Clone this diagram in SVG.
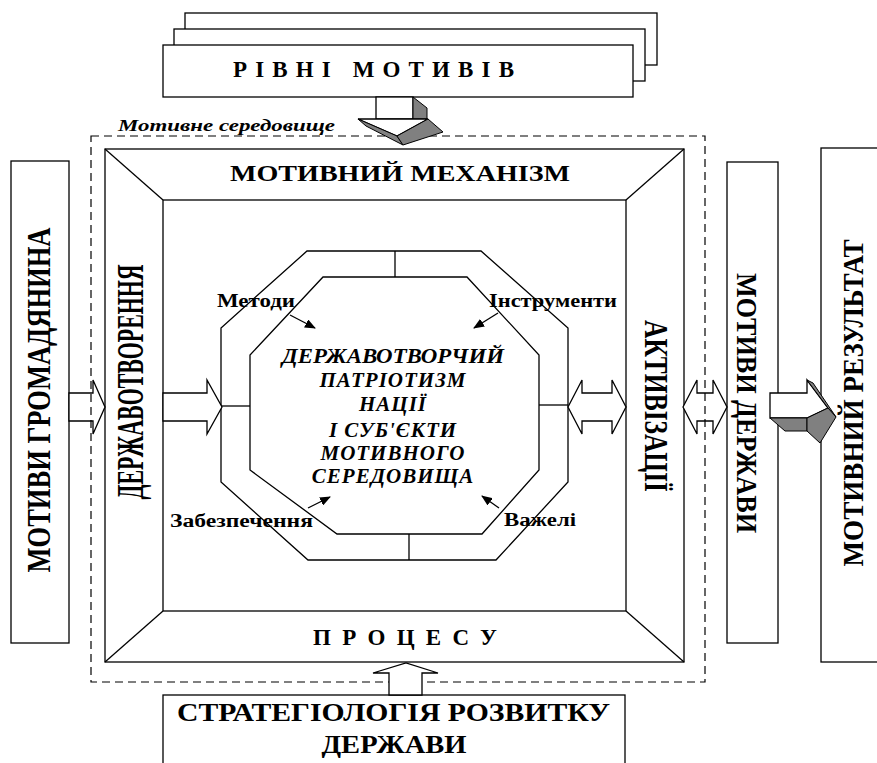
<svg xmlns="http://www.w3.org/2000/svg" width="877" height="763" viewBox="0 0 877 763">
<style>
.b{fill:#fff;stroke:#000;stroke-width:1.3}
.l{fill:none;stroke:#000;stroke-width:1.3}
.g{fill:#808080;stroke:#000;stroke-width:1}
.d{fill:none;stroke:#000;stroke-width:1.2;stroke-dasharray:8 5}
text{font-family:"Liberation Serif","Times New Roman",serif;font-weight:bold;fill:#000}
.it{font-style:italic}
</style>
<defs>
<marker id="ah" markerWidth="11" markerHeight="9" refX="10" refY="4.5" orient="auto" markerUnits="userSpaceOnUse">
<path d="M0,0 L11,4.5 L0,9 z" fill="#000"/>
</marker>
</defs>
<rect width="877" height="763" fill="#fff"/>

<g id="rivni-motyviv">
<rect class="b" x="185" y="13" width="472" height="52"/>
<rect class="b" x="174" y="29" width="471" height="52"/>
<rect class="b" x="163" y="45" width="470" height="52"/>
<text x="233" y="77" font-size="23" textLength="281" lengthAdjust="spacing">РІВНІ  МОТИВІВ</text>
</g>

<g id="motyvy-hromadianyna">
<rect class="b" x="11" y="161" width="58" height="482"/>
<text transform="translate(50,400) rotate(-90)" text-anchor="middle" font-size="34" textLength="345" lengthAdjust="spacingAndGlyphs">МОТИВИ ГРОМАДЯНИНА</text>
</g>

<g id="motyvnyi-mekhanizm">
<rect class="b" x="105" y="149" width="579" height="513"/>
<rect class="b" x="163" y="200" width="463" height="411"/>
<line class="l" x1="105" y1="149" x2="163" y2="200"/>
<line class="l" x1="684" y1="149" x2="626" y2="200"/>
<line class="l" x1="105" y1="662" x2="163" y2="611"/>
<line class="l" x1="684" y1="662" x2="626" y2="611"/>
<text x="400" y="181" font-size="24" text-anchor="middle" textLength="340" lengthAdjust="spacingAndGlyphs">МОТИВНИЙ  МЕХАНІЗМ</text>
<text x="313" y="645" font-size="23" textLength="184" lengthAdjust="spacing">ПРОЦЕСУ</text>
<text transform="translate(143,382) rotate(-90)" text-anchor="middle" font-size="37" textLength="235" lengthAdjust="spacingAndGlyphs">ДЕРЖАВОТВОРЕННЯ</text>
<text transform="translate(645,406) rotate(90)" text-anchor="middle" font-size="33" textLength="172" lengthAdjust="spacingAndGlyphs">АКТИВІЗАЦІЇ</text>
</g>

<g id="octagon">
<polygon class="b" points="307,251 481,251 568,328 568,482 496,560 308,560 221,482 221,328"/>
<polygon class="b" points="323,277 467,277 539,355 539,470 482,534 337,534 250,470 250,355"/>
<text x="393" y="363" font-size="21" class="it" text-anchor="middle" textLength="222" lengthAdjust="spacingAndGlyphs">ДЕРЖАВОТВОРЧИЙ</text>
<text x="393" y="387" font-size="21" class="it" text-anchor="middle" letter-spacing="1">ПАТРІОТИЗМ</text>
<text x="393" y="411" font-size="21" class="it" text-anchor="middle" letter-spacing="1">НАЦІЇ</text>
<text x="393" y="437" font-size="21" class="it" text-anchor="middle" letter-spacing="1">І СУБ'ЄКТИ</text>
<text x="393" y="460" font-size="21" class="it" text-anchor="middle" letter-spacing="1">МОТИВНОГО</text>
<text x="393" y="483" font-size="21" class="it" text-anchor="middle" letter-spacing="1">СЕРЕДОВИЩА</text>
</g>

<g id="labels">
<text x="217" y="307" font-size="18" textLength="78" lengthAdjust="spacingAndGlyphs">Методи</text>
<text x="489" y="307" font-size="18" textLength="128" lengthAdjust="spacingAndGlyphs">Інструменти</text>
<text x="170" y="527" font-size="18" textLength="143" lengthAdjust="spacingAndGlyphs">Забезпечення</text>
<text x="504" y="526" font-size="18" textLength="72" lengthAdjust="spacingAndGlyphs">Важелі</text>
</g>

<g id="motyvy-derzhavy">
<rect class="b" x="727" y="162" width="51" height="481"/>
<text transform="translate(737,403) rotate(90)" text-anchor="middle" font-size="30" textLength="260" lengthAdjust="spacingAndGlyphs">МОТИВИ ДЕРЖАВИ</text>
</g>

<g id="motyvnyi-rezultat">
<rect class="b" x="821" y="148" width="60" height="514"/>
<text transform="translate(863,403) rotate(-90)" text-anchor="middle" font-size="30" textLength="327" lengthAdjust="spacingAndGlyphs">МОТИВНИЙ РЕЗУЛЬТАТ</text>
</g>

<g id="stratehiolohiia">
<rect class="b" x="163" y="695" width="462" height="80"/>
<text x="177" y="721" font-size="26" textLength="433" lengthAdjust="spacingAndGlyphs">СТРАТЕГІОЛОГІЯ  РОЗВИТКУ</text>
<text x="394" y="753" font-size="26" text-anchor="middle" textLength="145" lengthAdjust="spacingAndGlyphs">ДЕРЖАВИ</text>
</g>

<g id="connectors">
<line class="l" x1="395" y1="251" x2="395" y2="277"/>
<line class="l" x1="409" y1="534" x2="409" y2="560"/>
<line class="l" x1="221" y1="406" x2="250" y2="406"/>
<line class="l" x1="539" y1="405" x2="568" y2="405"/>
<line class="l" x1="290" y1="315" x2="315" y2="328" marker-end="url(#ah)"/>
<line class="l" x1="498" y1="313" x2="474" y2="328" marker-end="url(#ah)"/>
<line class="l" x1="308" y1="508" x2="330" y2="497" marker-end="url(#ah)"/>
<line class="l" x1="499" y1="508" x2="482" y2="496" marker-end="url(#ah)"/>
<polygon class="b" points="69,393 93,393 93,380 105,407 93,434 93,421 69,421"/>
<polygon class="b" points="163,393 207,393 207,380 222,407 207,434 207,421 163,421"/>
<polygon class="b" points="568,407 582,380 582,393 612,393 612,380 626,407 612,434 612,421 582,421 582,434"/>
<polygon class="b" points="683,407 697,380 697,393 713,393 713,380 727,407 713,434 713,421 697,421 697,434"/>
</g>

<g id="motyvne-seredovyshche">
<rect class="d" x="91" y="136" width="614" height="546"/>
<text x="118" y="131" font-size="17" class="it" textLength="217" lengthAdjust="spacingAndGlyphs">Мотивне середовище</text>
</g>

<g id="arrows-3d">
<rect class="b" x="376" y="97" width="37" height="22"/>
<polygon class="g" points="413,97 427,108 427,119 413,119"/>
<polygon class="b" points="358,119 428,119 397,136"/>
<polygon class="g" points="358,119 397,136 403,145 366,126"/>
<polygon class="g" points="397,136 428,119 443,132 403,145"/>
<polygon class="b" points="770,393 807,393 807,380 828,408 807,418 770,418"/>
<polygon class="g" points="770,418 785,431 807,431 807,418"/>
<polygon class="g" points="807,380 813,383 836,417 828,408"/>
<polygon class="g" points="807,418 828,408 836,417 820,443 807,431"/>
<polygon class="b" points="389,695 389,673 373,673 406,663 438,673 422,673 422,695"/>
</g>
</svg>
